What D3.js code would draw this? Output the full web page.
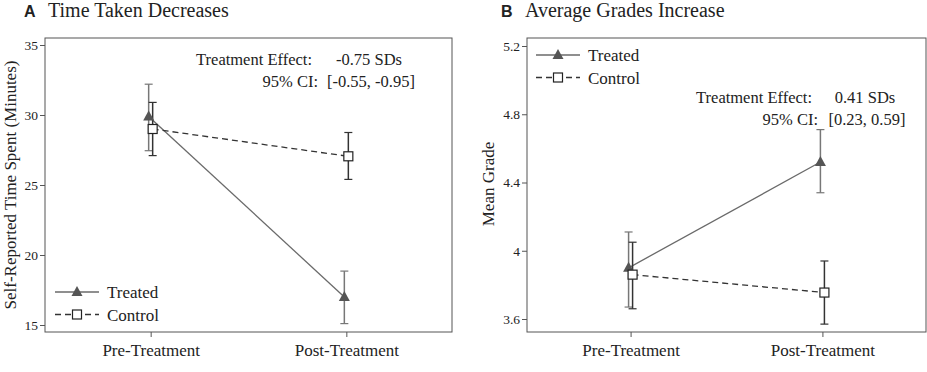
<!DOCTYPE html>
<html lang="en">
<head>
<meta charset="UTF-8">
<title>Time and Grades</title>
<script src="https://d3js.org/d3.v7.min.js"></script>
<style>
  body { margin: 0; background: #fff; }
  svg { display: block; }
  text { font-family: "Liberation Serif", "Times New Roman", serif; fill: #222; }
</style>
</head>
<body>
<svg id="chart"></svg>
<script>
const width = 927, height = 372;

// data
const periods = ["Pre-Treatment", "Post-Treatment"];
const groups = ["Treated", "Control"];

const timeTreated = [29.9, 17.0];
const timeTreatedLo = [27.45, 15.1];
const timeTreatedHi = [32.2, 18.85];
const timeControl = [29.0, 27.05];
const timeControlLo = [27.1, 25.4];
const timeControlHi = [30.9, 28.75];
const timeTicks = [15, 20, 25, 30, 35];

const gradeTreated = [3.9, 4.52];
const gradeTreatedLo = [3.67, 4.34];
const gradeTreatedHi = [4.11, 4.71];
const gradeControl = [3.86, 3.755];
const gradeControlLo = [3.66, 3.57];
const gradeControlHi = [4.05, 3.94];
const gradeTicks = [3.6, 4.0, 4.4, 4.8, 5.2];

const svg = d3.select("#chart")
    .attr("width", width)
    .attr("height", height)
    .attr("viewBox", [0, 0, width, height]);

function drawPanel(p) {
  const x = d3.scaleLinear().domain([0.46, 2.54]).range([p.left, p.right]);
  const y = d3.scaleLinear().domain(p.yDomain).range(p.yRange);
  const g = svg.append("g");

  // title
  g.append("text").attr("x", p.titleX).attr("y", 17)
    .style("font-family", "'Liberation Sans', Arial, sans-serif")
    .style("font-weight", "bold").style("font-size", "16px")
    .text(p.letter);
  g.append("text").attr("x", p.titleX + 24).attr("y", 17)
    .style("font-size", "20px").text(p.title);

  // frame
  g.append("rect")
    .attr("x", p.left).attr("y", p.top)
    .attr("width", p.right - p.left).attr("height", p.bottom - p.top)
    .attr("fill", "none").attr("stroke", "#555").attr("stroke-width", 1);

  // y axis
  const ya = g.append("g").attr("transform", `translate(${p.left},0)`)
    .call(d3.axisLeft(y).tickValues(p.ticks).tickSize(5).tickPadding(2)
      .tickFormat(p.tickFormat));
  ya.select(".domain").remove();
  ya.selectAll(".tick line").attr("stroke", "#555");
  ya.selectAll(".tick text").style("font-family", "'Liberation Serif', serif")
    .style("font-size", "13.5px").attr("fill", "#222");

  // x axis
  const xa = g.append("g").attr("transform", `translate(0,${p.bottom})`)
    .call(d3.axisBottom(x).tickValues([1, 2]).tickSize(5).tickPadding(7)
      .tickFormat((d, i) => periods[i]));
  xa.select(".domain").remove();
  xa.selectAll(".tick line").attr("stroke", "#555");
  xa.selectAll(".tick text").style("font-family", "'Liberation Serif', serif")
    .style("font-size", "17px").attr("fill", "#222");

  // y label
  g.append("text")
    .attr("transform", `translate(${p.yLabelX},${p.yLabelY}) rotate(-90)`)
    .attr("text-anchor", "middle").style("font-size", "17px")
    .text(p.yLabel);

  const series = [
    {name: groups[0], v: p.treated, lo: p.treatedLo, hi: p.treatedHi, off: -2,
     color: "#6a6a6a", barColor: "#777", dash: null, marker: "tri"},
    {name: groups[1], v: p.control, lo: p.controlLo, hi: p.controlHi, off: 2,
     color: "#333", barColor: "#333", dash: "6,4", marker: "sq"}
  ];

  series.forEach(s => {
    const pts = s.v.map((v, i) => [x(i + 1) + s.off, y(v)]);
    g.append("path").attr("d", d3.line()(pts))
      .attr("fill", "none").attr("stroke", s.color).attr("stroke-width", 1.3)
      .attr("stroke-dasharray", s.dash);
    s.v.forEach((v, i) => {
      const cx = x(i + 1) + s.off;
      g.append("line").attr("x1", cx).attr("x2", cx)
        .attr("y1", y(s.lo[i])).attr("y2", y(s.hi[i]))
        .attr("stroke", s.barColor).attr("stroke-width", 1.5);
      [s.lo[i], s.hi[i]].forEach(e => {
        g.append("line").attr("x1", cx - 4).attr("x2", cx + 4)
          .attr("y1", y(e)).attr("y2", y(e))
          .attr("stroke", s.barColor).attr("stroke-width", 1.2);
      });
    });
  });

  // markers on top
  series.forEach(s => {
    s.v.forEach((v, i) => drawMarker(g, s.marker, x(i + 1) + s.off, y(v)));
  });

  // annotation
  const fs = "16.5px";
  g.append("text").attr("x", p.annLabelX).attr("y", p.annY)
    .attr("text-anchor", "end").style("font-size", fs).text("Treatment Effect:");
  g.append("text").attr("x", p.annValX).attr("y", p.annY)
    .attr("text-anchor", "middle").style("font-size", fs).text(p.effect);
  g.append("text").attr("x", p.annLabelX + 6).attr("y", p.annY + 22)
    .attr("text-anchor", "end").style("font-size", fs).text("95% CI:");
  g.append("text").attr("x", p.annValX + 2).attr("y", p.annY + 22)
    .attr("text-anchor", "middle").style("font-size", fs).text(p.ci);

  // legend
  series.forEach((s, i) => {
    const ly = p.legY + i * 22.5;
    g.append("line").attr("x1", p.legX).attr("x2", p.legX + 44)
      .attr("y1", ly).attr("y2", ly)
      .attr("stroke", s.color).attr("stroke-width", 1.3)
      .attr("stroke-dasharray", s.dash);
    drawMarker(g, s.marker, p.legX + 22, ly);
    g.append("text").attr("x", p.legX + 52).attr("y", ly + 6)
      .style("font-size", "17px").text(s.name);
  });
}

function drawMarker(g, type, cx, cy) {
  if (type === "tri") {
    g.append("path")
      .attr("d", `M${cx},${cy - 6}L${cx + 5.5},${cy + 4}L${cx - 5.5},${cy + 4}Z`)
      .attr("fill", "#555");
  } else {
    g.append("rect").attr("x", cx - 4.5).attr("y", cy - 4.5)
      .attr("width", 9).attr("height", 9)
      .attr("fill", "#fff").attr("stroke", "#222").attr("stroke-width", 1.2);
  }
}

drawPanel({
  letter: "A", title: "Time Taken Decreases", titleX: 24,
  left: 45, right: 452, top: 38, bottom: 332,
  yDomain: [15, 35], yRange: [325, 45], ticks: timeTicks, tickFormat: d3.format("d"),
  yLabel: "Self-Reported Time Spent (Minutes)", yLabelX: 16, yLabelY: 185,
  treated: timeTreated, treatedLo: timeTreatedLo, treatedHi: timeTreatedHi,
  control: timeControl, controlLo: timeControlLo, controlHi: timeControlHi,
  effect: "-0.75 SDs", ci: "[-0.55, -0.95]",
  annLabelX: 312, annValX: 369, annY: 65,
  legX: 55, legY: 292
});

drawPanel({
  letter: "B", title: "Average Grades Increase", titleX: 501,
  left: 527, right: 926, top: 38, bottom: 332,
  yDomain: [3.6, 5.2], yRange: [319, 46], ticks: gradeTicks,
  tickFormat: d => d === 4 ? "4" : d3.format(".1f")(d),
  yLabel: "Mean Grade", yLabelX: 494, yLabelY: 184,
  treated: gradeTreated, treatedLo: gradeTreatedLo, treatedHi: gradeTreatedHi,
  control: gradeControl, controlLo: gradeControlLo, controlHi: gradeControlHi,
  effect: "0.41 SDs", ci: "[0.23, 0.59]",
  annLabelX: 812, annValX: 865, annY: 103,
  legX: 536, legY: 55
});
</script>
</body>
</html>
